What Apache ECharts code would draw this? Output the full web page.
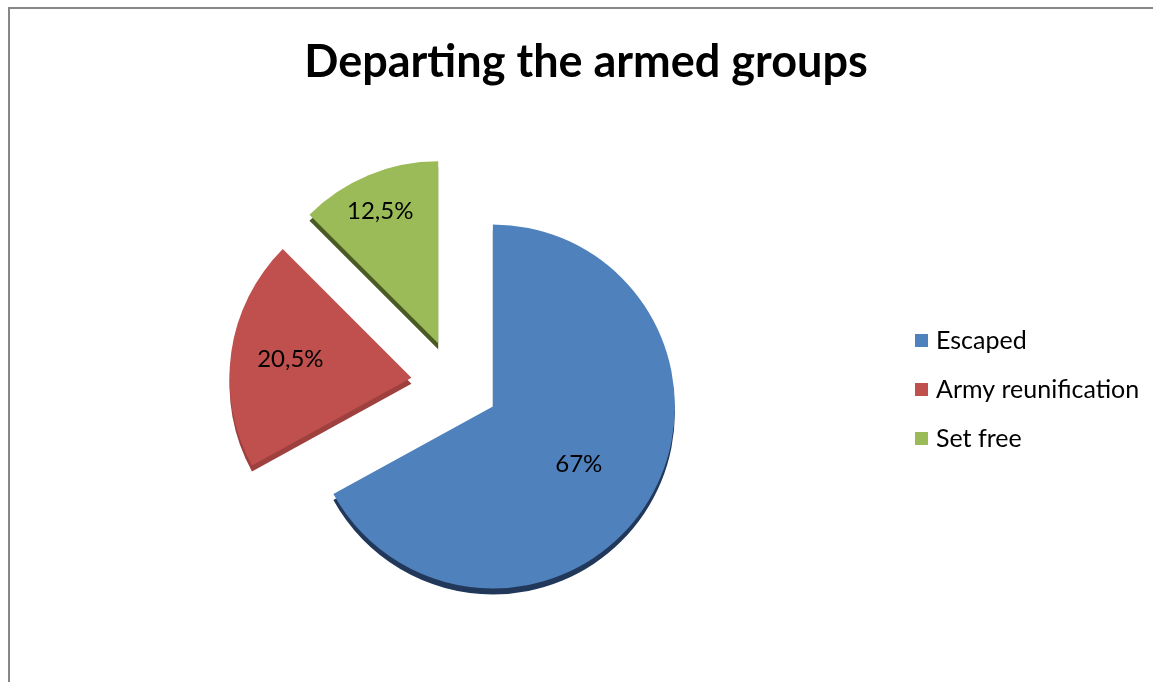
<!DOCTYPE html>
<html>
<head>
<meta charset="utf-8">
<script src="https://cdn.jsdelivr.net/npm/echarts@6/dist/echarts.min.js"></script>
<style>
  html, body { margin: 0; padding: 0; background: #ffffff; overflow: hidden; }
  #frame { position: absolute; left: 8px; top: 7px; width: 1200px; height: 720px;
           border-left: 2px solid #878787; border-top: 2px solid #878787; box-sizing: border-box; }
  #chart { position: absolute; left: 0; top: 0; width: 1153px; height: 682px; }
</style>
</head>
<body>
<div id="frame"></div>
<div id="chart"></div>
<script>
// Reasons for leaving the armed groups (share of respondents, %)
const titleText = 'Departing the armed groups';
const categories = ['Escaped', 'Army reunification', 'Set free'];
const shares = [67, 20.5, 12.5];
const labelTexts = ['67%', '20,5%', '12,5%'];

const faceColors = ['#4f81bd', '#c0504d', '#9bbb59'];
const sideColors = ['#22385a', '#9e403e', '#4a5a24'];

// nudges that push each percentage label towards the rim
const labelShift = [[5, 10], [-28, -5], [-22, -45]];

const fontFamily = 'Lato, "Open Sans", sans-serif';
const pieCenter = [455, 384];
const pieRadius = 182;
const explode = 44;
const depth = 6;

function sliceData(colors, withLabels) {
  return categories.map((name, i) => ({
    name: name,
    value: shares[i],
    selected: true,
    itemStyle: { color: colors[i] },
    label: withLabels ? { show: true, formatter: labelTexts[i] } : { show: false }
  }));
}

const chart = echarts.init(document.getElementById('chart'), null, { renderer: 'canvas' });
chart.setOption({
  animation: false,
  backgroundColor: 'transparent',
  title: {
    text: titleText,
    left: 581,
    textAlign: 'center',
    top: 35,
    textStyle: { fontFamily: fontFamily, fontSize: 45, fontWeight: 'bold', color: '#000000' }
  },
  legend: {
    orient: 'vertical',
    left: 915,
    top: 328,
    padding: 0,
    itemWidth: 13,
    itemHeight: 13,
    itemGap: 24,
    icon: 'rect',
    selectedMode: false,
    data: categories,
    textStyle: { fontFamily: fontFamily, fontSize: 25, color: '#000000', padding: [0, 0, 0, 3] }
  },
  series: [
    {
      name: 'face',
      type: 'pie',
      z: 3,
      center: pieCenter,
      radius: pieRadius,
      startAngle: 90,
      clockwise: true,
      selectedMode: 'multiple',
      selectedOffset: explode,
      avoidLabelOverlap: false,
      emphasis: { disabled: true },
      itemStyle: { borderWidth: 0 },
      label: {
        position: 'inside',
        fontFamily: fontFamily,
        fontSize: 24,
        color: '#000000'
      },
      labelLine: { show: false },
      labelLayout: function (p) {
        const s = labelShift[p.dataIndex];
        return { dx: s[0], dy: s[1] };
      },
      data: sliceData(faceColors, true)
    },
    {
      name: 'side',
      type: 'pie',
      z: 2,
      silent: true,
      center: [pieCenter[0], pieCenter[1] + depth],
      radius: pieRadius,
      startAngle: 90,
      clockwise: true,
      selectedMode: 'multiple',
      selectedOffset: explode,
      emphasis: { disabled: true },
      itemStyle: { borderWidth: 0 },
      label: { show: false },
      labelLine: { show: false },
      data: sliceData(sideColors, false)
    }
  ]
});
</script>
</body>
</html>
